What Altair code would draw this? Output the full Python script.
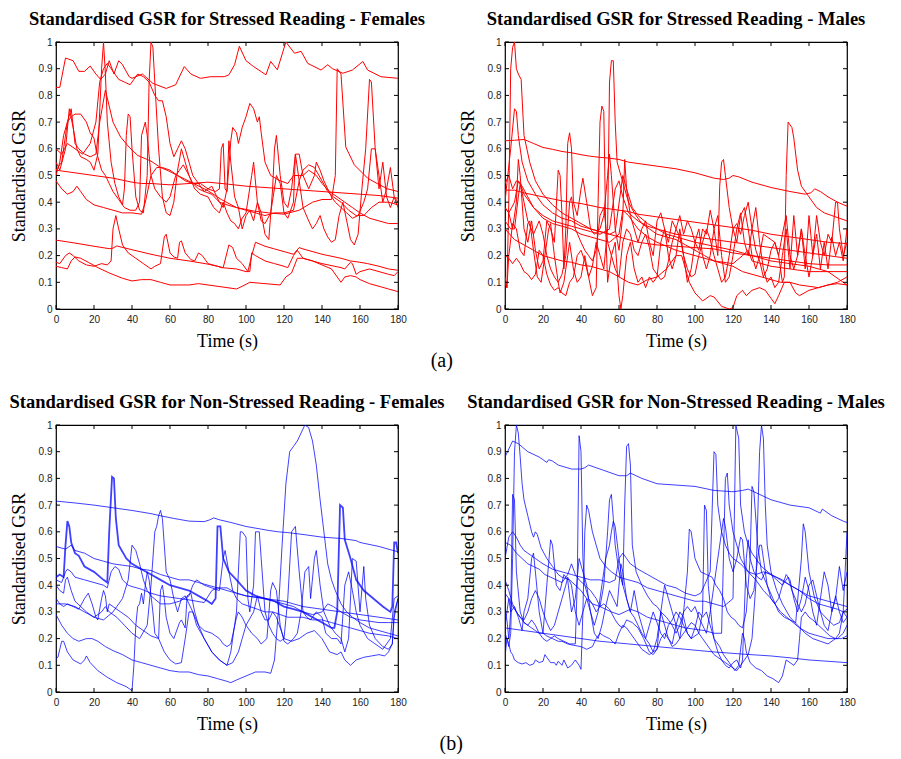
import altair as alt
import pandas as pd

TIME_TICKS = [0, 20, 40, 60, 80, 100, 120, 140, 160, 180]
GSR_TICKS = [0, 0.1, 0.2, 0.3, 0.4, 0.5, 0.6, 0.7, 0.8, 0.9, 1]

TITLES = [
    "Standardised GSR for Stressed Reading - Females",
    "Standardised GSR for Stressed Reading - Males",
    "Standardised GSR for Non-Stressed Reading - Females",
    "Standardised GSR for Non-Stressed Reading - Males",
]

# ---------------- Stressed reading - Females (time s, standardised GSR) ----------------
sf_1 = [(0,0.83),(2,0.83),(5,0.94),(9,0.93),(12,0.89),(15,0.89),(18,0.91),(21,0.88),(23.5,0.86),(26,0.88),(28,0.93),(30.5,0.88),(33,0.93),(35,0.915),(38.5,0.87),(40,0.864),(45.5,0.88),(51,0.845),(58,0.826),(63,0.84),(67.5,0.908),(71,0.88),(76,0.864),(81.5,0.87),(88.5,0.87),(91,0.877),(94,0.915),(96.5,0.984),(100,0.93),(104,0.908),(110.5,0.877),(113,0.927),(116.5,0.896),(121,1.0),(125.5,0.958),(129,0.965),(132.5,0.92),(139.5,0.895),(143,0.915),(145.5,0.9),(151,0.883),(156,0.895),(161.5,0.927),(164,0.895),(171,0.87),(180,0.864)]
sf_2 = [(0,0.52),(3,0.55),(6,0.7),(8,0.75),(10,0.62),(12,0.6),(15,0.58),(18,0.57),(21,0.58),(23,0.7),(26,0.82),(28,0.76),(30,0.7),(34,0.644),(38.5,0.606),(43,0.575),(50,0.554),(55,0.53),(59,0.518),(64,0.5),(73,0.468),(80,0.443),(87,0.41),(95,0.38),(104,0.367),(112,0.36),(120,0.355),(128,0.37),(135,0.4),(140,0.41),(145,0.41),(147,0.5),(148,0.9),(150,0.88),(152.5,0.607),(157,0.54),(164,0.49),(169,0.47),(174.5,0.45),(180,0.44)]
sf_3 = [(0,0.55),(2,0.52),(5,0.6),(7,0.75),(9,0.68),(11,0.6),(13,0.57),(16,0.56),(18,0.55),(20,0.52),(22,0.58),(24,0.9),(25,1.0),(26,0.88),(27,0.7),(29,0.55),(31,0.47),(33,0.42),(35,0.39),(36,0.45),(37,0.65),(38,0.73),(39,0.72),(40,0.6),(42,0.42),(44,0.37),(46,0.36),(48,0.5),(49,0.85),(50,1.0),(51,0.98),(52,0.85),(54,0.6),(56,0.42),(58,0.36),(60,0.35),(62,0.4),(64,0.52),(66,0.6),(68,0.55),(70,0.5),(72,0.47),(75,0.45),(78,0.44),(82,0.46),(86,0.4),(88,0.38),(90,0.45),(91,0.63),(92,0.55),(94,0.42),(96,0.38),(98,0.3),(100,0.35),(102,0.37),(104,0.33),(106,0.4),(108,0.36),(110,0.28),(112,0.26),(114,0.45),(115,0.6),(116,0.65),(118,0.5),(120,0.4),(122,0.38),(124,0.45),(126,0.58),(128,0.48),(130,0.38),(133,0.33),(135,0.3),(137,0.32),(139,0.35),(141,0.3),(143,0.27),(145,0.25),(147,0.26),(149,0.35),(151,0.4),(153,0.33),(155,0.26),(157,0.24),(159,0.28),(161,0.45),(163,0.6),(165,0.86),(166,0.85),(168,0.6),(170,0.45),(172,0.55),(174,0.42),(176,0.38),(178,0.42),(180,0.4)]
sf_4 = [(0,0.48),(3,0.45),(6,0.43),(9,0.44),(11,0.46),(13,0.44),(16,0.41),(20,0.39),(25,0.38),(30,0.37),(35,0.36),(40,0.36),(45,0.355),(47,0.4),(50,0.5),(53,0.53),(56,0.53),(60,0.52),(64,0.5),(68,0.48),(72,0.47),(76,0.47),(80,0.45),(84,0.44),(86,0.45),(87,0.6),(88,0.62),(89,0.45),(90,0.44),(92,0.63),(93,0.68),(95,0.66),(96,0.62),(98,0.68),(100,0.72),(102,0.77),(104,0.75),(106,0.7),(107,0.72),(108,0.66),(110,0.55),(113,0.5),(118,0.48),(122,0.47),(125,0.5),(128,0.5),(130,0.5),(133,0.52),(137,0.5),(140,0.47),(144,0.44),(148,0.42),(152,0.4),(156,0.38),(160,0.36),(165,0.34),(170,0.33),(175,0.32),(180,0.32)]
sf_5 = [(0,0.52),(10,0.51),(20,0.5),(30,0.49),(40,0.475),(45,0.47),(50,0.47),(60,0.465),(70,0.47),(80,0.475),(90,0.468),(100,0.46),(110,0.455),(120,0.45),(130,0.445),(140,0.44),(150,0.435),(160,0.43),(170,0.425),(180,0.415)]
sf_6 = [(0,0.258),(10,0.247),(20,0.235),(28,0.226),(30,0.228),(32,0.236),(40,0.222),(50,0.205),(60,0.19),(70,0.18),(80,0.168),(85,0.16),(88,0.155),(91,0.24),(93,0.23),(95,0.19),(98,0.17),(101,0.14),(103,0.2),(105,0.25),(110,0.235),(115,0.225),(120,0.215),(125,0.205),(128,0.23),(130,0.225),(140,0.205),(150,0.19),(155,0.18),(160,0.175),(164,0.17),(170,0.16),(175,0.15),(180,0.145)]
sf_7 = [(0,0.175),(2,0.17),(5,0.2),(7,0.21),(9,0.2),(12,0.18),(16,0.165),(20,0.16),(24,0.17),(27,0.165),(29,0.18),(30,0.3),(31.5,0.35),(33,0.3),(35,0.24),(38,0.21),(42,0.19),(46,0.17),(50,0.15),(52,0.16),(55,0.17),(57,0.27),(58,0.28),(60,0.21),(62,0.195),(64,0.19),(65,0.25),(66,0.255),(68,0.21),(71,0.185),(73,0.18),(75,0.21),(77,0.2),(80,0.17),(85,0.16),(87,0.155),(95,0.15),(100,0.14),(102,0.14),(103,0.21),(105,0.2),(110,0.18),(115,0.17),(120,0.16),(122,0.155),(125,0.2),(127,0.22),(130,0.19),(140,0.17),(150,0.155),(152,0.15),(155,0.175),(156,0.17),(158,0.13),(160,0.14),(165,0.15),(170,0.14),(175,0.13),(178,0.125),(180,0.14)]
sf_8 = [(0,0.16),(3,0.155),(6,0.15),(8,0.18),(10,0.195),(13,0.19),(17,0.175),(22,0.155),(28,0.135),(35,0.115),(40,0.105),(45,0.11),(50,0.11),(55,0.1),(60,0.09),(70,0.09),(75,0.095),(80,0.09),(90,0.08),(95,0.075),(98,0.085),(102,0.1),(110,0.095),(118,0.09),(121,0.12),(124,0.135),(127,0.19),(130,0.19),(135,0.18),(140,0.165),(145,0.15),(150,0.1),(152,0.12),(155,0.125),(158,0.12),(160,0.11),(165,0.095),(170,0.085),(175,0.075),(180,0.065)]
sf_9 = [(0,0.5),(2,0.55),(4,0.65),(6,0.7),(8,0.72),(10,0.73),(13,0.73),(16,0.7),(18,0.66),(20,0.64),(21,0.6),(22,0.57),(24,0.52),(26,0.5),(28,0.47),(30,0.44),(33,0.41),(36,0.38),(39,0.37),(42,0.37),(44,0.4),(45,0.65),(47,0.7),(48,0.65),(50,0.5),(52,0.45),(55,0.42),(58,0.4),(60,0.42),(63,0.5),(65,0.52),(67,0.54),(70,0.5),(73,0.45),(76,0.43),(80,0.42),(83,0.38),(86,0.36),(88,0.4),(90,0.36),(92,0.33),(94,0.32),(96,0.3),(98,0.34),(100,0.36),(103,0.5),(104,0.55),(106,0.4),(108,0.33),(110,0.32),(113,0.36),(116,0.5),(118,0.47),(120,0.36),(122,0.34),(125,0.4),(126,0.58),(128,0.58),(130,0.5),(133,0.45),(136,0.5),(137,0.55),(139,0.52),(141,0.48),(143,0.45),(145,0.42),(147,0.4),(150,0.38),(153,0.36),(156,0.34),(159,0.35),(162,0.4),(164,0.45),(166,0.6),(168,0.6),(170,0.5),(172,0.4),(174,0.45),(176,0.53),(178,0.42),(180,0.38)]
sf_10 = [(0,0.6),(3,0.58),(6,0.62),(10,0.6),(14,0.58),(18,0.62),(21,0.7),(23,0.85),(25,0.9),(27,0.92),(29,0.9),(31,0.88),(33,0.86),(36,0.85),(39,0.84),(41,0.86),(43,0.88),(46,0.87),(49,0.85),(52,0.8),(54,0.78),(56,0.78),(58,0.72),(60,0.62),(62,0.57),(64,0.6),(66,0.63),(68,0.6),(70,0.55),(72,0.5),(75,0.47),(78,0.44),(82,0.43),(86,0.4),(90,0.39),(95,0.38),(100,0.37),(105,0.36),(110,0.35),(115,0.36),(120,0.36),(125,0.37),(128,0.48),(130,0.52),(133,0.54),(136,0.53),(140,0.48),(143,0.44),(146,0.42),(150,0.4),(154,0.37),(158,0.35),(162,0.35),(166,0.38),(170,0.4),(175,0.4),(180,0.39)]

# ---------------- Stressed reading - Males ----------------
sm_1 = [(0,0.63),(5,0.632),(10,0.635),(15,0.62),(20,0.605),(25,0.598),(30,0.59),(35,0.585),(40,0.578),(45,0.572),(50,0.568),(55,0.565),(60,0.56),(65,0.55),(70,0.545),(80,0.535),(90,0.525),(100,0.51),(110,0.49),(115,0.485),(118,0.49),(120,0.5),(123,0.495),(130,0.475),(140,0.455),(150,0.44),(158,0.43),(161,0.435),(163,0.45),(166,0.44),(170,0.42),(175,0.4),(180,0.385)]
sm_2 = [(0,0.1),(1,0.08),(2,0.4),(3,0.9),(4,0.98),(5,1.0),(6,0.9),(7,0.88),(8.5,0.86),(10,0.65),(13,0.55),(16,0.48),(20,0.43),(25,0.39),(30,0.36),(35,0.34),(40,0.32),(45,0.3),(50,0.29),(55,0.28),(60,0.27),(65,0.26),(70,0.25),(80,0.24),(90,0.235),(100,0.23),(110,0.225),(120,0.21),(130,0.2),(140,0.19),(150,0.18),(160,0.17),(170,0.165),(180,0.165)]
sm_3 = [(0,0.4),(1,0.47),(3,0.6),(5,0.75),(6,0.74),(7,0.65),(9,0.55),(12,0.48),(16,0.43),(20,0.39),(25,0.36),(30,0.34),(35,0.33),(40,0.31),(45,0.3),(50,0.29),(55,0.28),(58,0.29),(62,0.5),(64,0.45),(67,0.38),(70,0.35),(75,0.32),(80,0.3),(85,0.28),(90,0.27),(100,0.25),(110,0.235),(120,0.22),(130,0.2),(140,0.18),(150,0.17),(160,0.16),(170,0.14),(180,0.09)]
sm_4 = [(0,0.2),(2,0.19),(4,0.17),(6,0.19),(8,0.17),(10,0.14),(12,0.13),(14,0.11),(16,0.13),(18,0.22),(20,0.2),(22,0.13),(24,0.09),(26,0.07),(28,0.08),(30,0.06),(32,0.05),(34,0.1),(36,0.12),(38,0.2),(40,0.22),(42,0.18),(44,0.12),(46,0.16),(48,0.25),(50,0.2),(52,0.15),(54,0.3),(55,0.85),(56,0.93),(57,0.93),(58,0.7),(59,0.55),(61,0.5),(63,0.45),(65,0.4),(68,0.36),(72,0.32),(76,0.3),(80,0.28),(85,0.27),(90,0.26),(95,0.24),(100,0.22),(105,0.2),(110,0.18),(115,0.17),(120,0.16),(125,0.14),(130,0.13),(135,0.12),(140,0.11),(145,0.1),(150,0.1),(155,0.09),(160,0.085),(165,0.08),(170,0.09),(175,0.1),(180,0.12)]
sm_5 = [(0,0.12),(1,0.08),(2,0.2),(4,0.32),(6,0.3),(8,0.22),(10,0.2),(12,0.32),(13,0.33),(15,0.22),(17,0.12),(19,0.1),(21,0.2),(23,0.3),(24,0.32),(26,0.2),(28,0.1),(29,0.06),(31,0.1),(33,0.2),(34,0.25),(36,0.15),(38,0.1),(40,0.12),(42,0.2),(44,0.12),(46,0.05),(48,0.08),(49,0.4),(50,0.7),(51,0.76),(52,0.74),(53,0.3),(54,0.1),(56,0.2),(58,0.25),(60,0.05),(61,0.0),(62,0.05),(64,0.2),(66,0.25),(68,0.15),(70,0.1),(72,0.12),(74,0.08),(76,0.12),(78,0.1),(80,0.12),(82,0.25),(84,0.3),(86,0.2),(88,0.15),(90,0.2),(92,0.3),(94,0.2),(96,0.1),(98,0.15),(100,0.25),(102,0.3),(104,0.2),(106,0.15),(108,0.2),(110,0.3),(112,0.35),(114,0.2),(116,0.1),(118,0.12),(120,0.2),(122,0.3),(124,0.36),(126,0.25),(128,0.2),(130,0.3),(132,0.38),(134,0.25),(136,0.15),(138,0.1),(140,0.12),(142,0.08),(144,0.1),(146,0.2),(148,0.3),(150,0.15),(152,0.35),(154,0.2),(156,0.3),(158,0.15),(160,0.35),(162,0.2),(164,0.28),(166,0.15),(168,0.25),(170,0.15),(172,0.27),(174,0.2),(176,0.25),(178,0.18),(180,0.3)]
sm_6 = [(0,0.38),(2,0.36),(4,0.3),(6,0.4),(7,0.56),(8,0.5),(10,0.3),(12,0.25),(14,0.33),(16,0.22),(18,0.15),(20,0.18),(22,0.33),(24,0.3),(26,0.25),(28,0.52),(29,0.5),(30,0.35),(31,0.15),(32,0.3),(33,0.62),(34,0.66),(35,0.6),(36,0.4),(38,0.35),(40,0.45),(41,0.49),(43,0.4),(45,0.3),(47,0.28),(50,0.3),(52,0.35),(54,0.5),(55,0.58),(56,0.5),(58,0.3),(60,0.22),(62,0.35),(63,0.56),(64,0.45),(66,0.35),(68,0.3),(70,0.25),(72,0.3),(74,0.33),(76,0.25),(78,0.2),(80,0.33),(82,0.36),(84,0.3),(86,0.25),(88,0.33),(90,0.3),(92,0.35),(94,0.28),(96,0.33),(98,0.3),(100,0.25),(102,0.22),(104,0.3),(106,0.28),(108,0.37),(110,0.3),(112,0.2),(113,0.46),(114,0.55),(115,0.56),(116,0.5),(118,0.38),(120,0.3),(122,0.25),(124,0.35),(126,0.38),(128,0.3),(130,0.2),(132,0.15),(134,0.2),(136,0.28),(138,0.27),(140,0.26),(142,0.25),(144,0.2),(146,0.1),(147,0.12),(148,0.5),(149,0.7),(151,0.68),(152,0.64),(154,0.52),(156,0.46),(160,0.42),(164,0.38),(168,0.36),(172,0.35),(176,0.34),(180,0.33)]
sm_7 = [(0,0.445),(5,0.445),(10,0.435),(20,0.42),(30,0.405),(40,0.395),(50,0.38),(60,0.37),(65,0.365),(70,0.355),(80,0.345),(90,0.335),(100,0.325),(110,0.315),(120,0.305),(130,0.295),(140,0.28),(150,0.27),(160,0.26),(170,0.25),(180,0.245)]
sm_8 = [(0,0.47),(2,0.5),(4,0.45),(6,0.48),(8,0.47),(10,0.43),(15,0.38),(20,0.35),(25,0.33),(30,0.32),(35,0.31),(40,0.3),(45,0.29),(50,0.28),(55,0.3),(58,0.45),(60,0.48),(62,0.42),(65,0.36),(70,0.33),(75,0.31),(80,0.3),(90,0.28),(100,0.27),(110,0.26),(120,0.25),(130,0.24),(140,0.23),(150,0.22),(160,0.21),(170,0.2),(180,0.19)]
sm_9 = [(0,0.3),(5,0.26),(10,0.24),(15,0.22),(20,0.2),(25,0.19),(30,0.18),(35,0.175),(40,0.165),(45,0.16),(50,0.15),(55,0.14),(60,0.12),(65,0.1),(70,0.09),(75,0.11),(80,0.12),(85,0.15),(90,0.2),(93,0.2),(95,0.15),(97,0.1),(100,0.06),(104,0.03),(108,0.05),(110,0.045),(114,0.01),(118,0.0),(120,0.005),(122,0.05),(125,0.07),(127,0.05),(130,0.07),(134,0.08),(137,0.07),(140,0.04),(142,0.02),(144,0.05),(147,0.1),(150,0.1),(153,0.06),(155,0.05),(160,0.07),(165,0.08),(170,0.09),(175,0.095),(180,0.09)]
sm_10 = [(0,0.33),(3,0.3),(5,0.3),(7,0.42),(8,0.47),(10,0.4),(12,0.33),(15,0.28),(18,0.33),(20,0.28),(22,0.2),(24,0.15),(26,0.12),(28,0.1),(30,0.13),(32,0.2),(34,0.4),(35,0.42),(37,0.3),(40,0.25),(42,0.22),(44,0.2),(46,0.18),(48,0.22),(50,0.35),(52,0.38),(54,0.25),(56,0.2),(58,0.15),(60,0.12),(62,0.25),(64,0.3),(66,0.28),(68,0.22),(70,0.2),(72,0.25),(74,0.28),(76,0.23),(78,0.15),(80,0.13),(82,0.11),(84,0.12),(86,0.18),(88,0.25),(90,0.3),(92,0.27),(94,0.2),(96,0.15),(98,0.12),(100,0.13),(102,0.2),(104,0.25),(106,0.3),(108,0.26),(110,0.2),(112,0.15),(114,0.1),(116,0.12),(118,0.2),(120,0.3),(122,0.32),(124,0.28),(126,0.35),(128,0.4),(130,0.3),(132,0.22),(134,0.18),(136,0.12),(138,0.15),(140,0.22),(142,0.25),(144,0.2),(146,0.28),(148,0.35),(150,0.2),(152,0.15),(154,0.2),(156,0.3),(158,0.2),(160,0.12),(162,0.2),(164,0.35),(166,0.25),(168,0.2),(170,0.28),(172,0.25),(174,0.4),(175,0.4),(176,0.3),(178,0.2),(180,0.25)]
sm_11 = [(0,0.38),(2,0.36),(5,0.4),(7,0.48),(9,0.46),(12,0.42),(15,0.38),(20,0.34),(25,0.32),(30,0.31),(35,0.3),(40,0.28),(45,0.27),(50,0.26),(55,0.25),(60,0.28),(62,0.37),(65,0.35),(70,0.3),(75,0.27),(80,0.25),(90,0.22),(100,0.2),(110,0.18),(120,0.17),(125,0.2),(128,0.22),(130,0.18),(140,0.16),(150,0.15),(160,0.14),(170,0.14),(180,0.14)]

# ---------------- Non-stressed reading - Females ----------------
nf_1 = [(0,0.715),(10,0.708),(20,0.7),(30,0.69),(40,0.68),(50,0.668),(55,0.66),(62,0.65),(70,0.64),(78,0.638),(81,0.645),(83,0.652),(86,0.645),(92,0.635),(100,0.62),(108,0.61),(112,0.605),(117,0.6),(122,0.597),(130,0.59),(140,0.58),(150,0.575),(158,0.567),(160,0.56),(170,0.545),(180,0.525)]
nf_2 = [(0,0.43),(2,0.44),(4,0.43),(5,0.55),(6,0.64),(7,0.62),(8,0.56),(10,0.52),(12,0.51),(15,0.47),(20,0.45),(25,0.42),(27,0.41),(28,0.6),(29.5,0.806),(30.5,0.8),(31.5,0.65),(33,0.55),(37,0.5),(40,0.48),(45,0.46),(50,0.44),(55,0.42),(60,0.4),(65,0.39),(70,0.38),(75,0.36),(80,0.34),(82,0.33),(84,0.35),(85,0.62),(86.5,0.62),(88,0.5),(91,0.45),(95,0.42),(100,0.38),(105,0.36),(110,0.35),(115,0.34),(120,0.32),(125,0.31),(130,0.3),(135,0.28),(140,0.26),(145,0.24),(146.5,0.24),(148,0.3),(149.5,0.7),(151,0.69),(152,0.57),(155,0.5),(158,0.42),(162,0.38),(167,0.35),(172,0.32),(176,0.3),(177,0.32),(178,0.56),(179,0.56),(180,0.52)]
nf_3 = [(0,0.29),(3,0.25),(6,0.22),(9,0.2),(12,0.19),(16,0.2),(19,0.2),(22,0.19),(26,0.17),(30,0.155),(35,0.14),(40,0.12),(45,0.11),(50,0.1),(55,0.09),(60,0.08),(65,0.075),(70,0.075),(75,0.065),(80,0.06),(85,0.05),(90,0.04),(92,0.035),(95,0.045),(100,0.06),(105,0.075),(110,0.075),(113,0.07),(115,0.12),(117,0.3),(119,0.55),(121,0.78),(123,0.9),(125,0.92),(127,0.94),(129,0.97),(131,1.0),(133,0.99),(135,0.94),(137,0.85),(139,0.72),(141,0.6),(143,0.48),(145,0.42),(147,0.38),(150,0.33),(153,0.3),(156,0.28),(160,0.26),(165,0.24),(170,0.23),(175,0.22),(180,0.21)]
nf_4 = [(0,0.125),(1,0.13),(3,0.19),(4,0.19),(6,0.15),(9,0.12),(13,0.105),(15,0.12),(16,0.135),(18,0.11),(22,0.08),(27,0.055),(32,0.035),(37,0.02),(40,0.005),(41,0.1),(42,0.25),(43,0.32),(44,0.33),(45,0.37),(46,0.33),(47,0.4),(48,0.45),(49,0.42),(51,0.3),(52,0.22),(54,0.2),(55,0.38),(56,0.4),(57,0.35),(58,0.28),(60,0.22),(62,0.2),(65,0.26),(66,0.27),(68,0.24),(69,0.36),(71,0.37),(73,0.3),(75,0.25),(78,0.23),(82,0.22),(86,0.2),(88,0.18),(90,0.17),(92,0.18),(95,0.28),(96,0.3),(98,0.28),(100,0.25),(103,0.22),(106,0.2),(108,0.18),(111,0.2),(113,0.38),(114,0.41),(116,0.38),(118,0.25),(120,0.19),(122,0.18),(125,0.2),(127,0.22),(129,0.3),(131,0.45),(133,0.47),(134,0.35),(136,0.5),(137,0.53),(139,0.4),(141,0.3),(144,0.25),(147,0.22),(150,0.2),(152,0.15),(154,0.2),(156,0.5),(158,0.49),(160,0.3),(162,0.47),(163,0.35),(165,0.25),(168,0.2),(172,0.17),(175,0.16),(177,0.18),(178,0.3),(180,0.35)]
nf_5 = [(0,0.35),(2,0.33),(4,0.32),(6,0.33),(9,0.32),(12,0.31),(15,0.35),(17,0.37),(19,0.33),(21,0.28),(22,0.27),(24,0.35),(25,0.38),(26,0.36),(27,0.3),(28,0.33),(30,0.32),(34,0.3),(38,0.28),(42,0.25),(46,0.23),(50,0.21),(54,0.2),(57,0.15),(60,0.12),(63,0.105),(66,0.11),(68,0.2),(70,0.3),(72,0.3),(74,0.25),(78,0.2),(82,0.15),(86,0.12),(90,0.1),(93,0.11),(96,0.15),(98,0.2),(100,0.25),(104,0.3),(106,0.36),(108,0.3),(110,0.27),(112,0.27),(114,0.3),(116,0.28),(118,0.24),(120,0.2),(124,0.19),(128,0.2),(132,0.22),(136,0.23),(140,0.2),(144,0.15),(148,0.14),(150,0.15),(152,0.12),(155,0.1),(158,0.12),(162,0.13),(166,0.135),(170,0.14),(173,0.135),(175,0.15),(177,0.18),(178,0.28),(180,0.35)]
nf_6 = [(0,0.545),(5,0.535),(8,0.55),(10,0.53),(15,0.52),(20,0.5),(25,0.49),(30,0.48),(35,0.475),(40,0.47),(45,0.46),(50,0.455),(55,0.44),(60,0.43),(65,0.42),(70,0.42),(75,0.41),(80,0.4),(85,0.39),(90,0.38),(95,0.37),(100,0.36),(105,0.355),(110,0.35),(115,0.345),(120,0.34),(125,0.33),(130,0.32),(140,0.31),(150,0.3),(160,0.29),(170,0.28),(180,0.27)]
nf_7 = [(0,0.42),(3,0.41),(5,0.45),(6,0.46),(8,0.45),(10,0.43),(15,0.42),(20,0.41),(25,0.4),(27,0.39),(29,0.45),(31,0.47),(33,0.46),(35,0.42),(38,0.4),(40,0.395),(45,0.385),(50,0.37),(55,0.36),(60,0.355),(65,0.35),(70,0.345),(74,0.34),(78,0.335),(82,0.38),(85,0.39),(90,0.39),(95,0.37),(100,0.36),(105,0.355),(110,0.35),(115,0.34),(120,0.33),(125,0.32),(130,0.3),(135,0.29),(140,0.3),(143,0.33),(146,0.32),(150,0.3),(155,0.28),(160,0.27),(165,0.265),(170,0.26),(175,0.26),(180,0.26)]
nf_8 = [(0,0.4),(2,0.38),(4,0.37),(5,0.42),(6,0.43),(8,0.38),(10,0.34),(13,0.32),(16,0.3),(20,0.28),(24,0.3),(26,0.32),(28,0.3),(32,0.28),(36,0.25),(40,0.22),(44,0.2),(48,0.25),(50,0.4),(52,0.6),(53,0.62),(54,0.66),(55,0.68),(56,0.65),(58,0.45),(60,0.42),(62,0.35),(64,0.3),(66,0.35),(68,0.36),(70,0.33),(72,0.3),(75,0.25),(78,0.2),(82,0.15),(86,0.12),(88,0.11),(90,0.1),(92,0.15),(94,0.25),(95,0.3),(97,0.6),(98,0.6),(100,0.58),(101,0.35),(102,0.3),(104,0.4),(105,0.6),(107,0.6),(108,0.5),(110,0.3),(112,0.25),(114,0.22),(116,0.2),(118,0.19),(120,0.2),(122,0.35),(124,0.6),(126,0.62),(128,0.45),(130,0.3),(132,0.28),(134,0.27),(137,0.3),(140,0.28),(142,0.22),(145,0.2),(148,0.2),(150,0.18),(152,0.4),(154,0.45),(156,0.38),(158,0.3),(160,0.25),(164,0.2),(168,0.18),(172,0.16),(176,0.2),(178,0.35),(180,0.36)]
nf_9 = [(0,0.33),(5,0.33),(10,0.32),(15,0.3),(20,0.28),(25,0.27),(30,0.3),(35,0.35),(38,0.42),(40,0.55),(42,0.53),(44,0.48),(46,0.42),(48,0.38),(50,0.36),(55,0.33),(60,0.33),(65,0.34),(70,0.36),(72,0.4),(74,0.42),(76,0.41),(78,0.4),(82,0.39),(86,0.38),(88,0.5),(89,0.53),(91,0.45),(93,0.38),(95,0.35),(98,0.33),(102,0.32),(106,0.31),(110,0.3),(114,0.3),(118,0.29),(122,0.28),(126,0.28),(130,0.28),(135,0.27),(140,0.27),(145,0.26),(150,0.25),(155,0.24),(160,0.23),(165,0.22),(170,0.215),(175,0.21),(180,0.2)]

# ---------------- Non-stressed reading - Males ----------------
nm_1 = [(0,0.88),(2,0.91),(4,0.94),(7,0.93),(12,0.9),(18,0.88),(22,0.86),(23,0.87),(25,0.865),(28,0.85),(35,0.835),(40,0.835),(42,0.84),(44,0.85),(48,0.84),(52,0.83),(60,0.81),(64,0.81),(66,0.82),(72,0.8),(80,0.78),(90,0.775),(100,0.77),(110,0.755),(120,0.75),(125,0.755),(128,0.76),(134,0.74),(140,0.72),(150,0.7),(160,0.69),(166,0.67),(167,0.685),(172,0.66),(178,0.64),(180,0.635)]
nm_2 = [(0,0.24),(10,0.23),(20,0.22),(30,0.21),(40,0.2),(50,0.19),(65,0.18),(80,0.17),(95,0.16),(110,0.15),(125,0.142),(140,0.135),(150,0.128),(160,0.12),(170,0.115),(180,0.11)]
nm_3 = [(0,0.13),(1,0.2),(2,0.17),(3,0.22),(4,0.5),(5,0.9),(6,1.0),(7,0.97),(8,0.88),(9,0.78),(10,0.72),(12,0.66),(14,0.6),(15,0.58),(16,0.6),(17,0.59),(19,0.54),(22,0.5),(25,0.47),(28,0.44),(30,0.43),(34,0.42),(37,0.4),(40,0.38),(43,0.35),(46,0.33),(50,0.32),(53,0.31),(56,0.3),(60,0.29),(63,0.3),(66,0.31),(70,0.3),(75,0.28),(80,0.27),(85,0.26),(90,0.25),(95,0.24),(100,0.235),(105,0.23),(110,0.22),(114,0.22),(116,0.8),(117,0.82),(118,0.7),(120,0.6),(124,0.5),(128,0.45),(132,0.42),(136,0.38),(140,0.35),(145,0.3),(150,0.27),(155,0.24),(160,0.22),(165,0.21),(170,0.2),(175,0.2),(178,0.22),(180,0.25)]
nm_4 = [(0,0.3),(1,0.27),(2,0.2),(3,0.3),(4,0.74),(5,0.72),(6,0.45),(8,0.3),(10,0.26),(12,0.25),(14,0.27),(16,0.25),(18,0.22),(20,0.2),(22,0.19),(24,0.2),(26,0.21),(28,0.2),(31,0.19),(34,0.18),(37,0.18),(38,0.4),(39,0.96),(40,0.9),(41,0.5),(42,0.4),(44,0.35),(46,0.33),(48,0.3),(50,0.32),(52,0.33),(55,0.31),(58,0.27),(60,0.25),(62,0.24),(64,0.27),(67,0.26),(70,0.24),(73,0.2),(76,0.15),(78,0.14),(80,0.16),(82,0.2),(84,0.22),(86,0.2),(88,0.18),(90,0.25),(92,0.3),(94,0.28),(96,0.22),(98,0.2),(100,0.21),(102,0.22),(104,0.3),(105,0.7),(106,0.68),(107,0.4),(109,0.25),(110,0.2),(113,0.17),(115,0.14),(117,0.12),(119,0.1),(121,0.08),(123,0.1),(125,0.22),(126,0.2),(127,0.15),(129,0.11),(132,0.09),(135,0.08),(138,0.06),(141,0.05),(144,0.035),(146,0.06),(148,0.12),(150,0.11),(152,0.1),(154,0.12),(155,0.2),(156,0.28),(158,0.3),(160,0.28),(162,0.27),(165,0.25),(168,0.23),(171,0.21),(174,0.2),(177,0.2),(180,0.21)]
nm_5 = [(0,0.22),(1,0.2),(2,0.18),(3,0.15),(4,0.14),(5,0.12),(7,0.11),(9,0.105),(11,0.11),(13,0.1),(15,0.105),(16,0.12),(18,0.11),(20,0.115),(21,0.14),(22,0.13),(24,0.11),(26,0.11),(27,0.1),(28,0.115),(30,0.1),(31,0.12),(33,0.09),(35,0.1),(37,0.12),(39,0.1),(40,0.085),(41,0.3),(42,0.6),(43,0.7),(44,0.68),(46,0.6),(48,0.55),(50,0.5),(53,0.47),(56,0.45),(60,0.43),(65,0.42),(70,0.41),(75,0.39),(80,0.38),(85,0.37),(90,0.36),(95,0.35),(100,0.34),(105,0.34),(110,0.33),(115,0.32),(120,0.35),(121.5,1.0),(123,0.95),(124,0.7),(126,0.6),(128,0.55),(130,0.52),(135,0.47),(140,0.44),(145,0.42),(150,0.4),(155,0.38),(160,0.36),(165,0.35),(170,0.34),(175,0.33),(180,0.32)]
nm_6 = [(0,0.56),(3,0.55),(6,0.52),(9,0.5),(12,0.48),(15,0.47),(18,0.46),(21,0.44),(24,0.43),(27,0.42),(30,0.41),(33,0.44),(35,0.48),(37,0.44),(39,0.42),(42,0.4),(45,0.38),(48,0.35),(50,0.32),(52,0.4),(54,0.6),(55,0.72),(56,0.74),(57,0.65),(58,0.55),(60,0.45),(62,0.4),(63,0.7),(64,0.92),(65,0.93),(66,0.85),(67,0.55),(69,0.45),(72,0.4),(75,0.36),(78,0.33),(80,0.32),(82,0.3),(85,0.28),(88,0.25),(90,0.22),(92,0.25),(94,0.3),(96,0.45),(97,0.61),(98,0.6),(100,0.5),(103,0.45),(106,0.44),(109,0.43),(111,0.4),(113,0.38),(115,0.35),(117,0.3),(119,0.28),(121,0.27),(123,0.25),(125,0.24),(127,0.3),(129,0.5),(130,0.77),(131,0.75),(133,0.55),(135,0.45),(138,0.4),(141,0.35),(144,0.3),(147,0.28),(150,0.27),(153,0.26),(156,0.5),(157,0.63),(158,0.6),(160,0.45),(163,0.35),(166,0.3),(170,0.27),(173,0.25),(176,0.26),(178,0.3),(180,0.28)]
nm_7 = [(0,0.5),(2,0.58),(4,0.6),(6,0.58),(8,0.55),(10,0.53),(12,0.52),(14,0.51),(16,0.5),(18,0.49),(20,0.48),(25,0.46),(30,0.45),(35,0.44),(40,0.43),(45,0.42),(50,0.42),(55,0.41),(58,0.42),(60,0.5),(62,0.52),(64,0.5),(66,0.48),(70,0.46),(75,0.44),(80,0.42),(85,0.4),(90,0.39),(95,0.37),(100,0.36),(103,0.37),(105,0.4),(108,0.45),(110,0.9),(111,0.89),(112,0.7),(114,0.6),(116,0.55),(118,0.52),(120,0.5),(124,0.48),(128,0.45),(132,0.44),(136,0.45),(140,0.44),(143,0.43),(146,0.42),(150,0.4),(155,0.38),(160,0.35),(165,0.33),(170,0.32),(175,0.31),(178,0.3),(180,0.31)]
nm_8 = [(0,0.25),(1,0.3),(2,0.35),(3,0.3),(5,0.32),(7,0.28),(9,0.23),(10,0.3),(12,0.35),(14,0.5),(15,0.52),(16,0.45),(18,0.3),(20,0.22),(22,0.4),(24,0.57),(25,0.55),(27,0.4),(29,0.38),(31,0.44),(33,0.42),(35,0.3),(37,0.35),(39,0.5),(41,0.45),(43,0.4),(45,0.3),(47,0.25),(49,0.3),(51,0.4),(53,0.5),(55,0.55),(56,0.6),(57,0.64),(58,0.62),(60,0.5),(62,0.4),(64,0.35),(66,0.3),(68,0.38),(70,0.3),(72,0.25),(74,0.2),(76,0.18),(78,0.15),(80,0.16),(82,0.3),(84,0.4),(86,0.35),(88,0.3),(90,0.25),(92,0.2),(94,0.3),(96,0.32),(98,0.3),(100,0.32),(102,0.28),(104,0.25),(106,0.22),(108,0.3),(110,0.4),(112,0.5),(114,0.6),(115,0.65),(116,0.62),(118,0.5),(120,0.45),(122,0.5),(124,0.58),(125,0.57),(127,0.4),(129,0.35),(131,0.38),(133,0.5),(134,0.55),(135,0.55),(136,0.5),(138,0.4),(140,0.35),(142,0.33),(144,0.35),(146,0.4),(148,0.44),(150,0.42),(152,0.35),(154,0.3),(156,0.35),(158,0.43),(160,0.38),(162,0.3),(164,0.25),(166,0.35),(168,0.45),(170,0.4),(172,0.3),(174,0.35),(176,0.47),(178,0.38),(180,0.45)]
nm_9 = [(0,0.42),(2,0.38),(4,0.33),(6,0.3),(8,0.28),(10,0.27),(12,0.3),(14,0.35),(16,0.38),(18,0.35),(20,0.3),(22,0.26),(24,0.23),(26,0.25),(28,0.3),(30,0.35),(32,0.4),(33,0.43),(35,0.4),(37,0.3),(39,0.25),(41,0.3),(43,0.35),(45,0.3),(47,0.22),(49,0.2),(51,0.25),(53,0.32),(55,0.38),(57,0.35),(59,0.32),(61,0.48),(62,0.45),(64,0.35),(66,0.3),(68,0.28),(70,0.25),(72,0.22),(74,0.2),(76,0.25),(78,0.3),(80,0.26),(82,0.22),(84,0.2),(86,0.25),(88,0.27),(90,0.3),(92,0.28),(94,0.25),(96,0.22),(98,0.2),(100,0.24),(102,0.3),(104,0.28),(106,0.3),(108,0.25),(110,0.2),(112,0.15),(114,0.12),(116,0.1),(118,0.09),(120,0.11),(122,0.12),(124,0.09),(125,0.12),(127,0.5),(128,0.57),(129,0.5),(131,0.45),(133,0.43),(135,0.42),(137,0.45),(140,0.44),(143,0.42),(146,0.4),(149,0.43),(151,0.38),(154,0.33),(156,0.3),(158,0.33),(160,0.4),(162,0.42),(164,0.36),(166,0.3),(168,0.25),(170,0.23),(172,0.3),(174,0.36),(176,0.3),(178,0.26),(180,0.28)]
nm_10 = [(0,0.37),(2,0.35),(4,0.32),(6,0.3),(8,0.28),(10,0.26),(12,0.25),(14,0.24),(16,0.23),(18,0.22),(20,0.22),(22,0.21),(25,0.2),(28,0.19),(30,0.19),(33,0.18),(36,0.175),(40,0.17),(43,0.16),(46,0.17),(48,0.2),(50,0.22),(52,0.21),(55,0.2),(58,0.18),(60,0.22),(62,0.25),(64,0.24),(66,0.22),(68,0.2),(70,0.18),(72,0.16),(74,0.15),(76,0.14),(78,0.15),(80,0.2),(82,0.3),(84,0.25),(86,0.2),(88,0.17),(90,0.18),(92,0.2),(94,0.22),(96,0.24),(98,0.26),(100,0.25),(102,0.22),(104,0.2),(106,0.18),(108,0.16),(110,0.14),(112,0.13),(114,0.12),(116,0.11),(118,0.1),(120,0.09),(122,0.08),(124,0.1),(126,0.12),(128,0.14),(130,0.2),(132,0.4),(134,0.9),(135,1.0),(136,0.95),(137,0.7),(138,0.55),(140,0.45),(143,0.38),(146,0.33),(150,0.28),(154,0.25),(158,0.22),(162,0.2),(166,0.19),(170,0.18),(174,0.2),(176,0.22),(178,0.3),(180,0.6)]

STRESSED_FEMALES = [sf_1, sf_2, sf_3, sf_4, sf_5, sf_6, sf_7, sf_8, sf_9, sf_10]
STRESSED_MALES = [sm_1, sm_2, sm_3, sm_4, sm_5, sm_6, sm_7, sm_8, sm_9, sm_10, sm_11]
NONSTRESSED_FEMALES = [nf_1, nf_2, nf_3, nf_4, nf_5, nf_6, nf_7, nf_8, nf_9]
NONSTRESSED_MALES = [nm_1, nm_2, nm_3, nm_4, nm_5, nm_6, nm_7, nm_8, nm_9, nm_10]

W, H = 342, 267
TICK = 4


def to_frame(lines, thick):
    rows = []
    for i, pts in enumerate(lines):
        for t, v in pts:
            rows.append({"line": i, "t": t, "v": v, "w": 1.8 if i in thick else 1.0})
    return pd.DataFrame(rows)


def panel(lines, color, title, thick=(), opacity=1.0):
    xs = alt.Scale(domain=[0, 180], nice=False, zero=False)
    ys = alt.Scale(domain=[0, 1], nice=False, zero=False)
    x_axis = alt.Axis(values=TIME_TICKS, title="Time (s)", labelFlush=False)
    y_axis = alt.Axis(values=GSR_TICKS, format="~g", title="Standardised GSR", labelFlush=False)
    df = to_frame(lines, thick)
    curves = alt.Chart(df).mark_line(color=color, clip=True, opacity=opacity).encode(
        x=alt.X("t:Q", scale=xs, axis=x_axis),
        y=alt.Y("v:Q", scale=ys, axis=y_axis),
        detail="line:N",
        strokeWidth=alt.StrokeWidth("w:Q", scale=None, legend=None),
    )
    xt = pd.DataFrame({"t": TIME_TICKS})
    yt = pd.DataFrame({"v": GSR_TICKS})
    rule = dict(color="black", strokeWidth=1)
    bottom = alt.Chart(xt).mark_rule(**rule).encode(
        x=alt.X("t:Q", scale=xs, axis=x_axis), y=alt.value(H), y2=alt.value(H - TICK))
    top = alt.Chart(xt).mark_rule(**rule).encode(
        x=alt.X("t:Q", scale=xs, axis=x_axis), y=alt.value(0), y2=alt.value(TICK))
    left = alt.Chart(yt).mark_rule(**rule).encode(
        y=alt.Y("v:Q", scale=ys, axis=y_axis), x=alt.value(0), x2=alt.value(TICK))
    right = alt.Chart(yt).mark_rule(**rule).encode(
        y=alt.Y("v:Q", scale=ys, axis=y_axis), x=alt.value(W - TICK), x2=alt.value(W))
    return alt.layer(curves, bottom, top, left, right).properties(
        width=W, height=H, title=alt.Title(title))


RED = "#ff0000"
BLUE = "#0000ff"

p1 = panel(STRESSED_FEMALES, RED, TITLES[0])
p2 = panel(STRESSED_MALES, RED, TITLES[1])
p3 = panel(NONSTRESSED_FEMALES, BLUE, TITLES[2], thick=(1,), opacity=0.75)
p4 = panel(NONSTRESSED_MALES, BLUE, TITLES[3], opacity=0.75)

label_style = dict(orient="bottom", anchor="middle", fontSize=20, fontWeight="normal",
                   font="Liberation Serif", color="black", offset=0, frame="bounds", dx=4)

row1 = alt.hconcat(p1, p2, spacing=107, bounds="flush",
                   title=alt.Title("(a)", **label_style))
row2 = alt.hconcat(p3, p4, spacing=107, bounds="flush",
                   title=alt.Title("(b)", **label_style))

chart = alt.vconcat(row1, row2, spacing=20).properties(
    padding={"left": 0, "top": 0, "right": 0, "bottom": 0}
).configure_view(
    stroke="black", strokeWidth=1.2
).configure_axis(
    grid=False, domain=False, ticks=False,
    labelFont="Liberation Sans", labelFontSize=10, labelColor="#222222",
    titleFont="Liberation Serif", titleFontSize=18, titleFontWeight="normal",
    titleColor="black",
).configure_axisX(
    labelPadding=5, titlePadding=8
).configure_axisY(
    labelPadding=4, titlePadding=10
).configure_title(
    font="Liberation Serif", fontSize=18.5, fontWeight="bold", color="black",
    anchor="middle", frame="group", offset=9
)

chart.save("out.html", embed_options={"renderer": "svg", "actions": False})
